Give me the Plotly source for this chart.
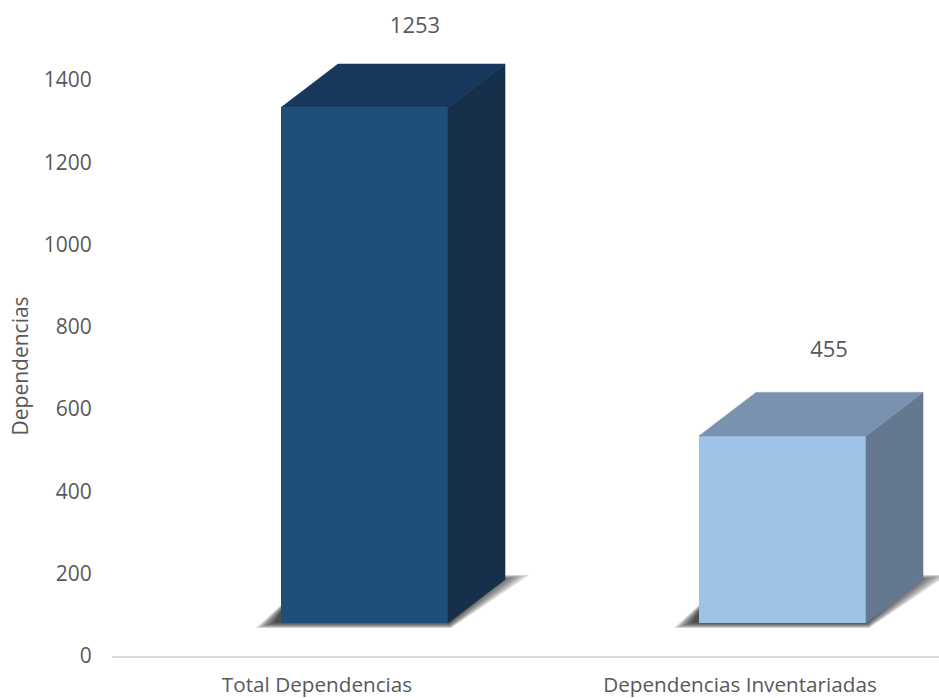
import plotly.graph_objects as go

categories = ["Total Dependencias", "Dependencias Inventariadas"]
values = [1253, 455]
y_ticks = [0, 200, 400, 600, 800, 1000, 1200, 1400]
front_colors = ["#1F4E79", "#9DC3E6"]
top_colors = ["#17375C", "#7892B0"]
side_colors = ["#16304C", "#64798F"]
axis_title = "Dependencias"

PX_X = 423.0          # pixels per category step on the label axis
PX_Y = 576.0 / 1400   # pixels per value unit
FLOOR = 80            # the 3D floor is lifted above the axis
BAR_POS = [0.1123, 1.1005]
BAR_W = 167 / PX_X
DEPTH_X = 57 / PX_X
DEPTH_Y = 43.5 / PX_Y
LABEL_DX = [50.5 / PX_X, 46.5 / PX_X]
LABEL_DY = [275, 285]


def ux(px):
    return px / PX_X


def uy(px):
    return px / PX_Y


fig = go.Figure()


def poly(xs, ys, color):
    fig.add_trace(go.Scatter(x=xs, y=ys, mode="lines", fill="toself", fillcolor=color,
                             line=dict(width=0.6, color=color), hoverinfo="skip",
                             showlegend=False))


# soft floor shadows, stacked to imitate the blur; kept below all traces
shapes = []
for pos in BAR_POS:
    left = pos - BAR_W / 2
    right = pos + BAR_W / 2
    for t in [0.0, 0.15, 0.3, 0.45, 0.6, 0.75, 0.9, 1.0]:
        low = FLOOR - uy(5 - 5 * t)
        pts = [(left - ux(25 - 18 * t), low),
               (left, FLOOR + uy(18 - 6 * t)),
               (right + DEPTH_X, FLOOR + uy(48 - 5 * t)),
               (right + ux(81 - 34 * t), FLOOR + uy(48 - 5 * t)),
               (right + ux(3 - 2 * t), low)]
        path = "M " + " L ".join(f"{a:.5f},{b:.3f}" for a, b in pts) + " Z"
        shapes.append(dict(type="path", path=path, xref="x", yref="y", layer="below",
                           fillcolor="#1c1c1c", opacity=0.17, line=dict(width=0)))

fig.add_trace(go.Bar(x=BAR_POS, y=values, base=[FLOOR] * len(values), width=BAR_W,
                     marker=dict(color=front_colors, line=dict(width=0)),
                     hovertext=categories, hoverinfo="text+y", showlegend=False))

# side and top faces come from the same values as the front bars
for pos, v, side, top in zip(BAR_POS, values, side_colors, top_colors):
    left = pos - BAR_W / 2
    right = pos + BAR_W / 2
    h = FLOOR + v
    poly([right, right + DEPTH_X, right + DEPTH_X, right, right],
         [FLOOR, FLOOR + DEPTH_Y, h + DEPTH_Y, h, FLOOR], side)
    poly([left, left + DEPTH_X, right + DEPTH_X, right, left],
         [h, h + DEPTH_Y, h + DEPTH_Y, h, h], top)

fig.add_trace(go.Scatter(
    x=[p + d for p, d in zip(BAR_POS, LABEL_DX)],
    y=[v + d for v, d in zip(values, LABEL_DY)],
    mode="text", text=[str(v) for v in values],
    textfont=dict(family="Open Sans", size=22, color="#595959"),
    textposition="middle center", hoverinfo="skip", showlegend=False))

fig.update_layout(
    width=939, height=698,
    margin=dict(l=112, r=0, t=0, b=42, autoexpand=False),
    paper_bgcolor="white", plot_bgcolor="white",
    font=dict(family="Open Sans", size=20, color="#595959"),
    shapes=shapes,
    xaxis=dict(range=[(112 - 317) / PX_X, (939 - 317) / PX_X], tickmode="array",
               tickvals=[0, 1], ticktext=categories, showgrid=False, zeroline=False,
               showline=True, linecolor="#D9D9D9", linewidth=2, automargin=False,
               ticks="outside", ticklen=9, tickcolor="rgba(0,0,0,0)",
               tickfont=dict(family="Open Sans", size=20.7, color="#595959")),
    yaxis=dict(range=[0, 656 / PX_Y], tickmode="array", tickvals=y_ticks,
               showgrid=False, zeroline=False, showline=False, automargin=False,
               ticks="outside", ticklen=15, tickcolor="rgba(0,0,0,0)",
               tickfont=dict(family="Open Sans", size=21, color="#595959")),
    annotations=[dict(text=axis_title, textangle=-90, xref="paper", yref="paper",
                      x=(19 - 112) / 827, y=(656 - 366.5) / 656, showarrow=False,
                      xanchor="center", yanchor="middle",
                      font=dict(family="Open Sans", size=21, color="#595959"))],
)

fig.write_html("out.html", config={"displayModeBar": False},
               post_script="document.body.style.margin='0';document.body.style.overflow='hidden';")
